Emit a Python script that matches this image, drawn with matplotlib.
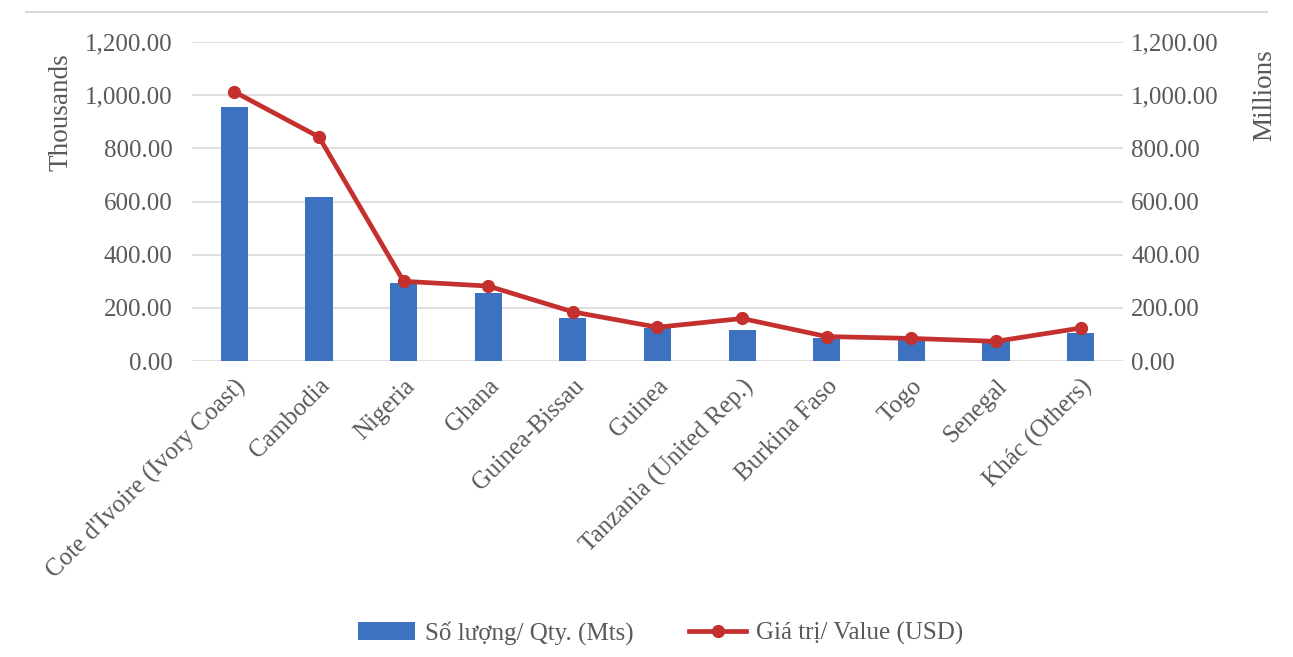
import matplotlib.pyplot as plt
import numpy as np

plt.rcParams['font.family'] = ['Liberation Serif', 'DejaVu Serif']

countries = ["Cote d'Ivoire (Ivory Coast)", 'Cambodia', 'Nigeria', 'Ghana', 'Guinea-Bissau',
             'Guinea', 'Tanzania (United Rep.)', 'Burkina Faso', 'Togo', 'Senegal', 'Khác (Others)']
qty = [955, 617, 292, 257, 160, 124, 117, 88, 85, 78, 105]          # thousands of tonnes
value = [1013, 843, 300, 282, 185, 127, 160, 92, 85, 74, 124]       # millions USD
ticks = [0, 200, 400, 600, 800, 1000, 1200]

grey = '#595959'
bar_color = '#3D72C0'
line_color = '#C3302E'

fig = plt.figure(figsize=(12.93, 6.57), dpi=100)
ax = fig.add_axes([0.1485, 0.4505, 0.72, 0.4855])
ax2 = ax.twinx()

x = np.arange(len(countries))
b = ax.bar(x, qty, width=0.32, color=bar_color, zorder=2)
l, = ax2.plot(x, value, color=line_color, lw=3.4, marker='o', ms=8.5, zorder=3)

for a in (ax, ax2):
    a.set_ylim(0, 1200)
    a.set_yticks(ticks)
    a.set_yticklabels([f'{t:,.2f}' for t in ticks])
    a.tick_params(length=0, labelsize=18, colors=grey)
    for s in a.spines.values():
        s.set_visible(False)
ax.set_zorder(ax2.get_zorder() - 1)
ax2.patch.set_visible(False)
ax.tick_params(axis='y', pad=14)
ax2.tick_params(axis='y', pad=6)

ax.set_xlim(-0.5, len(countries) - 0.5)
ax.set_xticks(x)
ax.set_xticklabels(countries, rotation=45, ha='right', rotation_mode='anchor', fontsize=18, color=grey)
ax.tick_params(axis='x', pad=10)
ax.grid(axis='y', color='#D9D9D9', lw=1.2, zorder=0)

fig.text(0.047, 0.83, 'Thousands', rotation=90, ha='center', va='center', fontsize=19.5, color=grey)
fig.text(0.978, 0.855, 'Millions', rotation=90, ha='center', va='center', fontsize=19.5, color=grey)

fig.legend([b, l], ['Số lượng/ Qty. (Mts)', 'Giá trị/ Value (USD)'], loc='center',
           bbox_to_anchor=(0.511, 0.036), ncol=2, frameon=False, fontsize=18,
           labelcolor=grey, handlelength=2.3, handletextpad=0.4, columnspacing=2.2)

fig.add_artist(plt.Line2D([0.02, 0.98], [0.982, 0.982], color='#D9D9D9', lw=1.5))

fig.savefig('out.png', dpi=100)
